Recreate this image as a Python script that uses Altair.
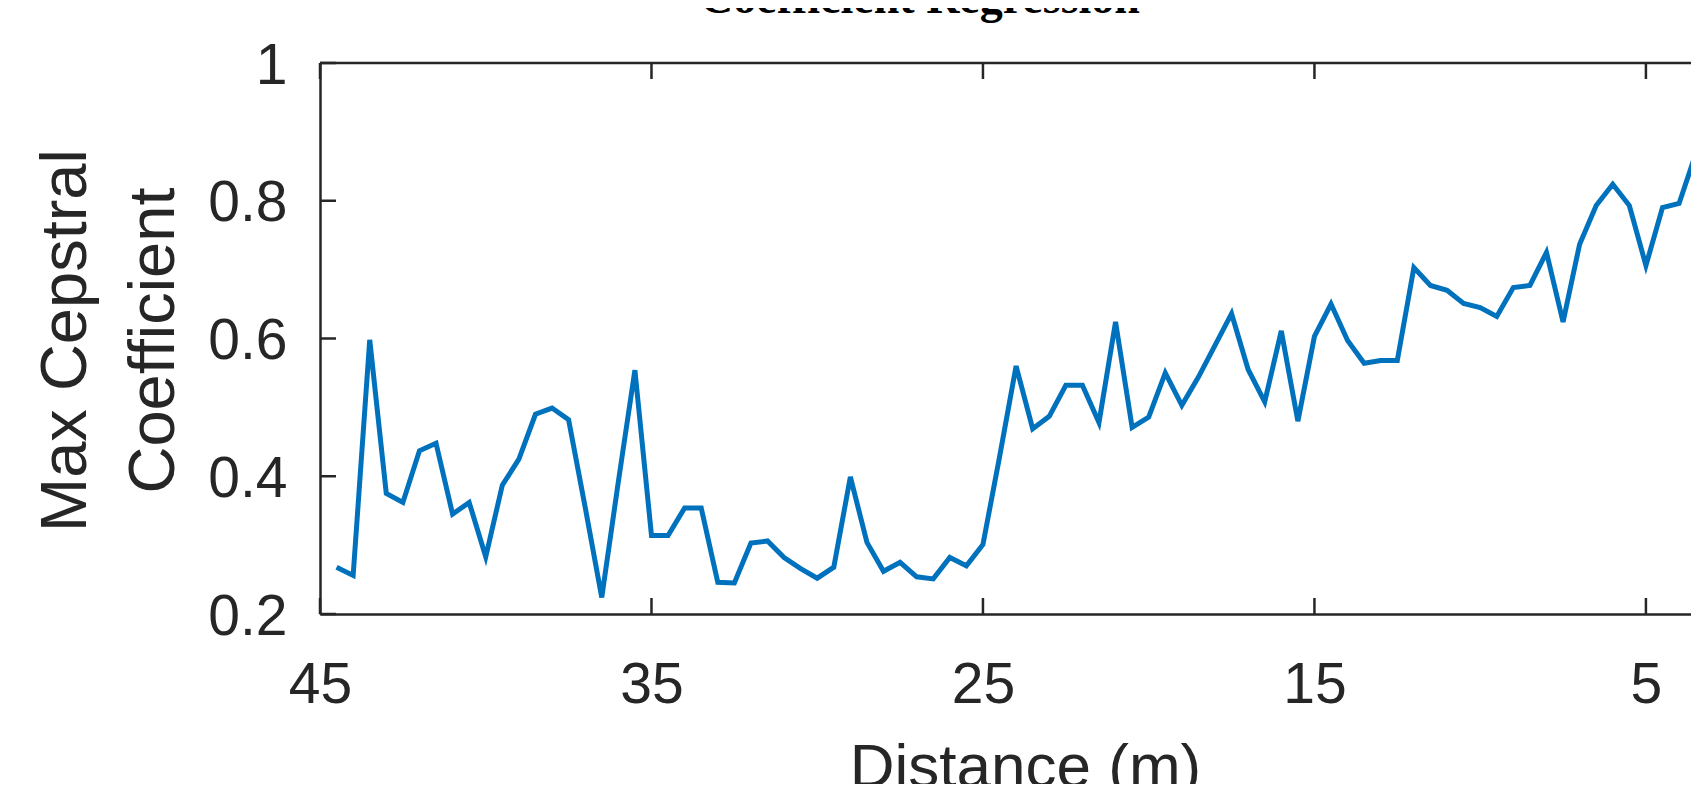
import altair as alt
import pandas as pd

TITLE = "Coefficient Regression"
Y_TITLE = ["Max Cepstral", "Coefficient"]
X_TITLE = "Distance (m)"

distance = [44.5, 44.0, 43.5, 43.0, 42.5, 42.0, 41.5, 41.0, 40.5, 40.0,
            39.5, 39.0, 38.5, 38.0, 37.5, 37.0, 36.5, 36.0, 35.5, 35.0,
            34.5, 34.0, 33.5, 33.0, 32.5, 32.0, 31.5, 31.0, 30.5, 30.0,
            29.5, 29.0, 28.5, 28.0, 27.5, 27.0, 26.5, 26.0, 25.5, 25.0,
            24.5, 24.0, 23.5, 23.0, 22.5, 22.0, 21.5, 21.0, 20.5, 20.0,
            19.5, 19.0, 18.5, 18.0, 17.5, 17.0, 16.5, 16.0, 15.5, 15.0,
            14.5, 14.0, 13.5, 13.0, 12.5, 12.0, 11.5, 11.0, 10.5, 10.0,
            9.5, 9.0, 8.5, 8.0, 7.5, 7.0, 6.5, 6.0, 5.5, 5.0,
            4.5, 4.0, 3.5]
coefficient = [0.268, 0.256, 0.598, 0.375, 0.362, 0.437, 0.448, 0.345, 0.362, 0.283,
               0.387, 0.425, 0.490, 0.499, 0.482, 0.355, 0.224, 0.392, 0.554, 0.314,
               0.314, 0.354, 0.354, 0.246, 0.245, 0.303, 0.306, 0.282, 0.266, 0.252,
               0.268, 0.399, 0.304, 0.262, 0.275, 0.254, 0.251, 0.282, 0.270, 0.301,
               0.428, 0.560, 0.469, 0.487, 0.532, 0.532, 0.478, 0.624, 0.471, 0.486,
               0.550, 0.503, 0.544, 0.590, 0.636, 0.555, 0.508, 0.611, 0.480, 0.603,
               0.650, 0.597, 0.564, 0.568, 0.568, 0.703, 0.677, 0.670, 0.651, 0.645,
               0.632, 0.674, 0.677, 0.725, 0.624, 0.737, 0.793, 0.824, 0.793, 0.706,
               0.790, 0.796, 0.868]

x_ticks = [45, 35, 25, 15, 5]
y_ticks = [0.2, 0.4, 0.6, 0.8, 1.0]

W, H = 1371, 551
TICK = 16
AX = "#262626"
FONT = "Liberation Sans"

df = pd.DataFrame({"d": distance, "c": coefficient})
xt = pd.DataFrame({"d": x_ticks})
yt = pd.DataFrame({"c": y_ticks})

xscale = alt.Scale(domain=[3.64, 45], reverse=True, nice=False, zero=False)
yscale = alt.Scale(domain=[0.2, 1.0], nice=False, zero=False)

x_axis = alt.Axis(values=x_ticks, title=X_TITLE, ticks=False, grid=False,
                  domainColor=AX, domainWidth=2.5, labelFlush=False,
                  labelFont=FONT, labelFontSize=57, labelColor=AX,
                  labelBaseline="alphabetic", labelPadding=88,
                  titleFont=FONT, titleFontSize=62, titleFontWeight="normal",
                  titleColor=AX, titleX=705, titleY=172,
                  titleBaseline="alphabetic", titleAlign="center")
y_axis = alt.Axis(values=y_ticks, format="~g", title=Y_TITLE, ticks=False, grid=False,
                  domainColor=AX, domainWidth=2.5, labelFlush=False,
                  labelFont=FONT, labelFontSize=57, labelColor=AX,
                  labelPadding=33, labelBaseline="middle", labelOffset=3,
                  titleFont=FONT, titleFontSize=65, titleFontWeight="normal",
                  titleColor=AX, titleAngle=270, titleX=-235, titleY=277,
                  titleBaseline="alphabetic", titleAlign="center",
                  titleLineHeight=88)

X = alt.X("d:Q", scale=xscale, axis=x_axis)
Y = alt.Y("c:Q", scale=yscale, axis=y_axis)

line = alt.Chart(df).mark_line(color="#0072BD", strokeWidth=5, clip=True).encode(x=X, y=Y)

top_border = alt.Chart(pd.DataFrame({"k": [0]})).mark_rule(color=AX, strokeWidth=2.5).encode(
    x=alt.value(0), x2=alt.value(W), y=alt.value(0))

bottom_ticks = alt.Chart(xt).mark_rule(color=AX, strokeWidth=2.5).encode(
    x=X, y=alt.value(H - TICK), y2=alt.value(H))
top_ticks = alt.Chart(xt).mark_rule(color=AX, strokeWidth=2.5).encode(
    x=X, y=alt.value(0), y2=alt.value(TICK))
left_ticks = alt.Chart(yt).mark_rule(color=AX, strokeWidth=2.5).encode(
    y=Y, x=alt.value(0), x2=alt.value(TICK))

title = alt.Chart(pd.DataFrame({"t": [TITLE]})).mark_text(
    font="Liberation Serif", fontWeight="bold", fontSize=46, color="#000000",
    align="center", baseline="alphabetic").encode(
    text="t:N", x=alt.value(600), y=alt.value(-50))

chart = alt.layer(line, top_border, bottom_ticks, top_ticks, left_ticks, title).properties(
    width=W, height=H,
    autosize=alt.AutoSizeParams(type="none"),
    padding={"left": 312, "top": 55, "right": 0, "bottom": 170},
    background="white",
).configure_view(strokeWidth=0)

chart.save("out.html", embed_options={"renderer": "svg", "actions": False})
